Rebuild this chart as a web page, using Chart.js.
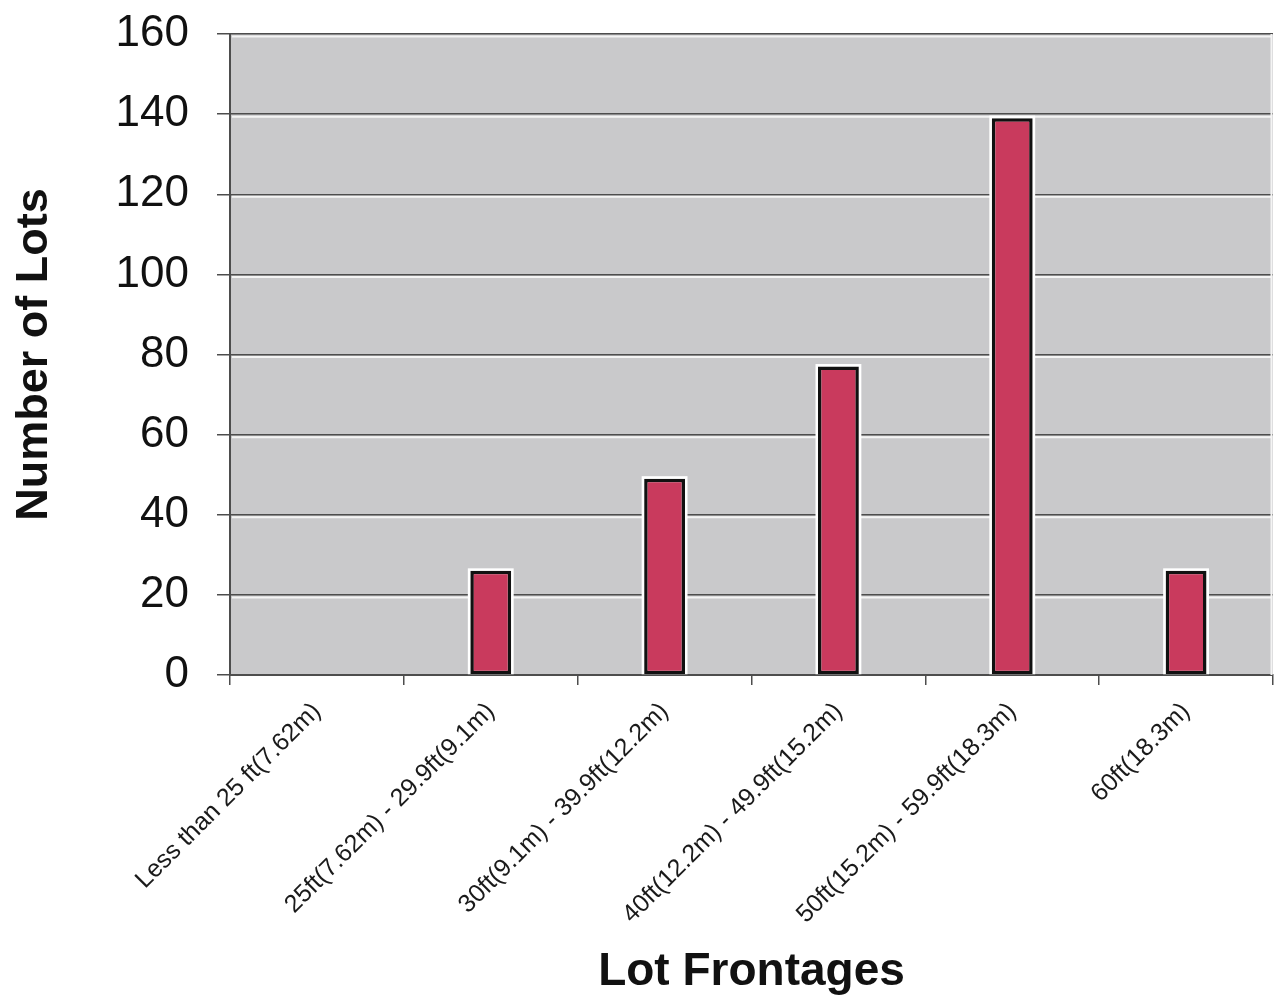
<!DOCTYPE html>
<html>
<head>
<meta charset="utf-8">
<title>Lot Frontages</title>
<script src="https://cdn.jsdelivr.net/npm/chart.js@4/dist/chart.umd.min.js"></script>
<style>
  html, body { margin: 0; padding: 0; background: #ffffff; }
  #wrap { width: 1277px; height: 1001px; position: relative; }
</style>
</head>
<body>
<div id="wrap"><canvas id="chart" width="1277" height="1001"></canvas></div>
<script>
// Lot frontage ranges and the number of lots in each
const categories = [
  'Less than 25 ft(7.62m)',
  '25ft(7.62m) - 29.9ft(9.1m)',
  '30ft(9.1m) - 39.9ft(12.2m)',
  '40ft(12.2m) - 49.9ft(15.2m)',
  '50ft(15.2m) - 59.9ft(18.3m)',
  '60ft(18.3m)'
];
const lotCounts = [0, 26, 49, 77, 139, 26];
const yTicks = [0, 20, 40, 60, 80, 100, 120, 140, 160];

const AXIS_DARK = '#4d4d4d';
const PLOT_FILL = '#c9c9cb';
const BAR_FILL = '#c93a5d';

// Grey plot area, embossed grid lines and a white halo around each bar
const plotStyle = {
  id: 'plotStyle',
  beforeDraw(chart) {
    const { ctx, chartArea: a } = chart;
    ctx.save();
    ctx.fillStyle = PLOT_FILL;
    ctx.fillRect(a.left, a.top, a.right - a.left, a.bottom - a.top);
    ctx.restore();
  },
  beforeDatasetsDraw(chart) {
    const { ctx, chartArea: a, scales } = chart;
    const y = scales.y;
    ctx.save();
    ctx.strokeStyle = '#f4f4f4';
    ctx.lineWidth = 2;
    y.ticks.forEach(t => {
      const py = y.getPixelForValue(t.value);
      if (t.value === 0) return;
      ctx.beginPath();
      ctx.moveTo(a.left + 2, py + 2.5);
      ctx.lineTo(a.right - 2, py + 2.5);
      ctx.stroke();
    });
    // light inner edge on the right side of the plot
    ctx.beginPath();
    ctx.moveTo(a.right - 1.5, a.top);
    ctx.lineTo(a.right - 1.5, a.bottom);
    ctx.stroke();
    // halo behind the bars
    const meta = chart.getDatasetMeta(0);
    ctx.fillStyle = '#ffffff';
    meta.data.forEach(bar => {
      const p = bar.getProps(['x', 'y', 'base', 'width'], true);
      if (Math.abs(p.base - p.y) < 1) return;
      const h = 2.5;
      ctx.fillRect(p.x - p.width / 2 - h, p.y - h, p.width + 2 * h, p.base - p.y + h);
    });
    ctx.restore();
  }
};

new Chart(document.getElementById('chart'), {
  type: 'bar',
  data: {
    labels: categories,
    datasets: [{
      label: 'Number of Lots',
      data: lotCounts,
      backgroundColor: BAR_FILL,
      borderColor: '#111111',
      borderWidth: 3.5,
      borderSkipped: false,
      barPercentage: 0.235,
      categoryPercentage: 1
    }]
  },
  options: {
    responsive: false,
    animation: false,
    events: [],
    layout: { padding: { top: 34, right: 4, left: 0, bottom: 0 } },
    plugins: {
      legend: { display: false },
      tooltip: { enabled: false }
    },
    scales: {
      x: {
        offset: true,
        grid: {
          display: true,
          offset: true,
          drawOnChartArea: false,
          drawTicks: true,
          tickLength: 10,
          color: AXIS_DARK,
          lineWidth: 1.5
        },
        border: { display: true, color: AXIS_DARK, width: 2 },
        ticks: {
          autoSkip: false,
          maxRotation: 45,
          minRotation: 45,
          padding: 12,
          color: '#1a1a1a',
          font: { family: 'Liberation Sans, Arial, sans-serif', size: 25 }
        },
        title: {
          display: true,
          text: 'Lot Frontages',
          color: '#111111',
          padding: { top: 0, bottom: 6 },
          font: { family: 'Liberation Sans, Arial, sans-serif', size: 46, weight: 'bold', lineHeight: 1 }
        },
        afterFit(scale) { scale.height = 326; }
      },
      y: {
        min: 0,
        max: 160,
        afterBuildTicks(scale) { scale.ticks = yTicks.map(v => ({ value: v })); },
        grid: {
          color: AXIS_DARK,
          lineWidth: 1.5,
          drawTicks: true,
          tickLength: 13
        },
        border: { display: true, color: AXIS_DARK, width: 2 },
        ticks: {
          padding: 28,
          color: '#111111',
          font: { family: 'Liberation Sans, Arial, sans-serif', size: 44 }
        },
        title: {
          display: true,
          text: 'Number of Lots',
          color: '#111111',
          padding: { top: 12, bottom: 0 },
          font: { family: 'Liberation Sans, Arial, sans-serif', size: 45, weight: 'bold', lineHeight: 1 }
        },
        afterFit(scale) {
          scale.width = 230;
          // the layout padding already leaves room for the top and bottom labels
          scale.paddingTop = 0;
          scale.paddingBottom = 0;
        }
      }
    }
  },
  plugins: [plotStyle]
});
</script>
</body>
</html>
